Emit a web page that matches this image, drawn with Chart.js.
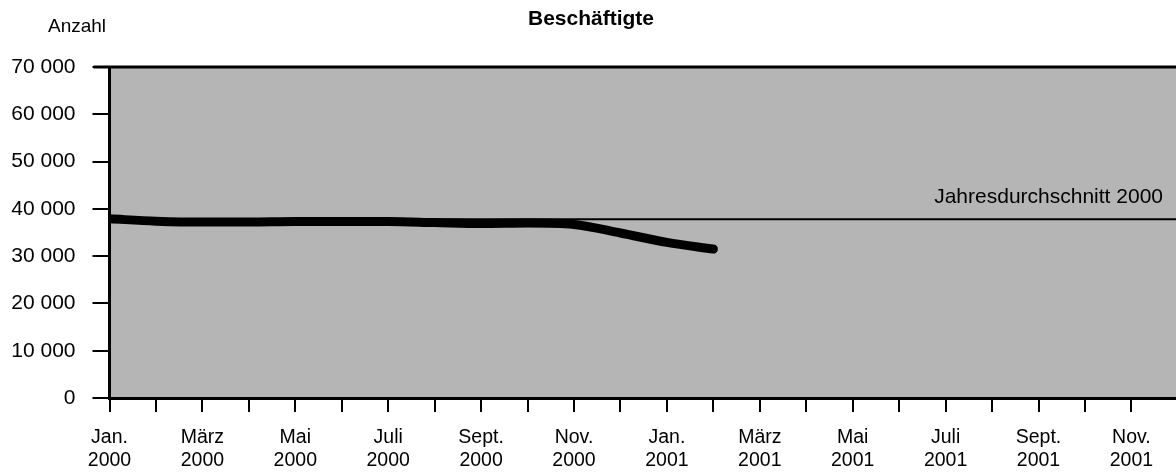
<!DOCTYPE html>
<html>
<head>
<meta charset="utf-8">
<script src="https://cdn.jsdelivr.net/npm/chart.js@4/dist/chart.umd.min.js"></script>
<style>
  body { margin: 0; background: #fff; }
  #wrap { width: 1176px; height: 472px; position: relative; }
</style>
</head>
<body>
<div id="wrap"><canvas id="myChart"></canvas></div>
<script>
// months Jan. 2000 .. Feb. 2001
const months = ['Jan. 2000', 'Feb. 2000', 'März 2000', 'Apr. 2000', 'Mai 2000', 'Juni 2000', 'Juli 2000',
    'Aug. 2000', 'Sept. 2000', 'Okt. 2000', 'Nov. 2000', 'Dez. 2000', 'Jan. 2001', 'Feb. 2001'];
const employees = [37900, 37400, 37200, 37200, 37300, 37300, 37300, 37100, 36900, 37000, 36700, 34900, 32900, 31500];
const annualAverage2000 = 37800;

// axis labels, every second month
const axisLabels = [['Jan.', '2000'], ['März', '2000'], ['Mai', '2000'], ['Juli', '2000'], ['Sept.', '2000'], ['Nov.', '2000'],
    ['Jan.', '2001'], ['März', '2001'], ['Mai', '2001'], ['Juli', '2001'], ['Sept.', '2001'], ['Nov.', '2001']];
const monthCount = 23;       // Jan. 2000 .. Nov. 2001 tick marks
const xMax = 22.96;          // axis runs past the right edge
const yTicks = [0, 10000, 20000, 30000, 40000, 50000, 60000, 70000];

Chart.defaults.font.family = "'Liberation Sans', Arial, sans-serif";
Chart.defaults.color = '#000';

const FONT = "'Liberation Sans', Arial, sans-serif";

const decor = {
    id: 'decor',
    beforeDraw(chart) {
        const { ctx, chartArea } = chart;
        ctx.save();
        ctx.fillStyle = '#b5b5b5';
        ctx.fillRect(chartArea.left, chartArea.top, chartArea.right - chartArea.left, chartArea.bottom - chartArea.top);
        ctx.restore();
    },
    afterDraw(chart) {
        const { ctx, chartArea, scales } = chart;
        ctx.save();
        // top border
        ctx.strokeStyle = '#000';
        ctx.lineWidth = 3;
        ctx.beginPath();
        ctx.moveTo(chartArea.left - 16, chartArea.top);
        ctx.lineTo(chartArea.right, chartArea.top);
        ctx.stroke();

        ctx.fillStyle = '#000';
        ctx.font = 'bold 21px ' + FONT;
        ctx.textAlign = 'center';
        ctx.textBaseline = 'alphabetic';
        ctx.fillText('Beschäftigte', 591, 25);

        ctx.font = '19px ' + FONT;
        ctx.textAlign = 'left';
        ctx.fillText('Anzahl', 48, 32);

        const yAvg = scales.y.getPixelForValue(annualAverage2000);
        ctx.font = '21px ' + FONT;
        ctx.textAlign = 'right';
        ctx.fillText('Jahresdurchschnitt 2000', 1163, yAvg - 16);
        ctx.restore();
    }
};

new Chart('myChart', {
    type: 'line',
    data: {
        datasets: [{
            label: 'Jahresdurchschnitt 2000',
            data: [{ x: 0, y: annualAverage2000 }, { x: xMax, y: annualAverage2000 }],
            borderColor: '#000',
            borderWidth: 2,
            pointRadius: 0,
            tension: 0,
            order: 2
        }, {
            label: 'Beschäftigte',
            data: employees.map((v, i) => ({ x: i, y: v })),
            borderColor: '#000',
            borderWidth: 9,
            borderCapStyle: 'round',
            borderJoinStyle: 'round',
            pointRadius: 0,
            cubicInterpolationMode: 'monotone',
            order: 1
        }]
    },
    options: {
        responsive: true,
        maintainAspectRatio: false,
        animation: false,
        layout: { padding: { top: 67, right: 0, left: 0, bottom: 0 } },
        plugins: {
            legend: { display: false },
            tooltip: { enabled: false }
        },
        scales: {
            x: {
                type: 'linear',
                min: 0,
                max: xMax,
                afterBuildTicks: (scale) => {
                    scale.ticks = Array.from({ length: monthCount }, (_, i) => ({ value: i }));
                },
                afterFit: (scale) => { scale.height = 74; },
                ticks: {
                    autoSkip: false,
                    maxRotation: 0,
                    padding: 14,
                    font: { size: 19.5, lineHeight: 1.2 },
                    callback: (v) => (v % 2 === 0 ? axisLabels[v / 2] : '')
                },
                grid: { drawOnChartArea: false, color: '#000', lineWidth: 2, tickLength: 14 },
                border: { color: '#000', width: 3 }
            },
            y: {
                min: 0,
                max: 70000,
                afterBuildTicks: (scale) => {
                    scale.ticks = yTicks.map(v => ({ value: v }));
                },
                afterFit: (scale) => { scale.width = 109.5; },
                ticks: {
                    padding: 17,
                    font: { size: 21 },
                    callback: (v) => v === 0 ? '0' : (v / 1000) + ' 000'
                },
                grid: { drawOnChartArea: false, color: '#000', lineWidth: 2, tickLength: 17 },
                border: { color: '#000', width: 3 }
            }
        }
    },
    plugins: [decor]
});
</script>
</body>
</html>
